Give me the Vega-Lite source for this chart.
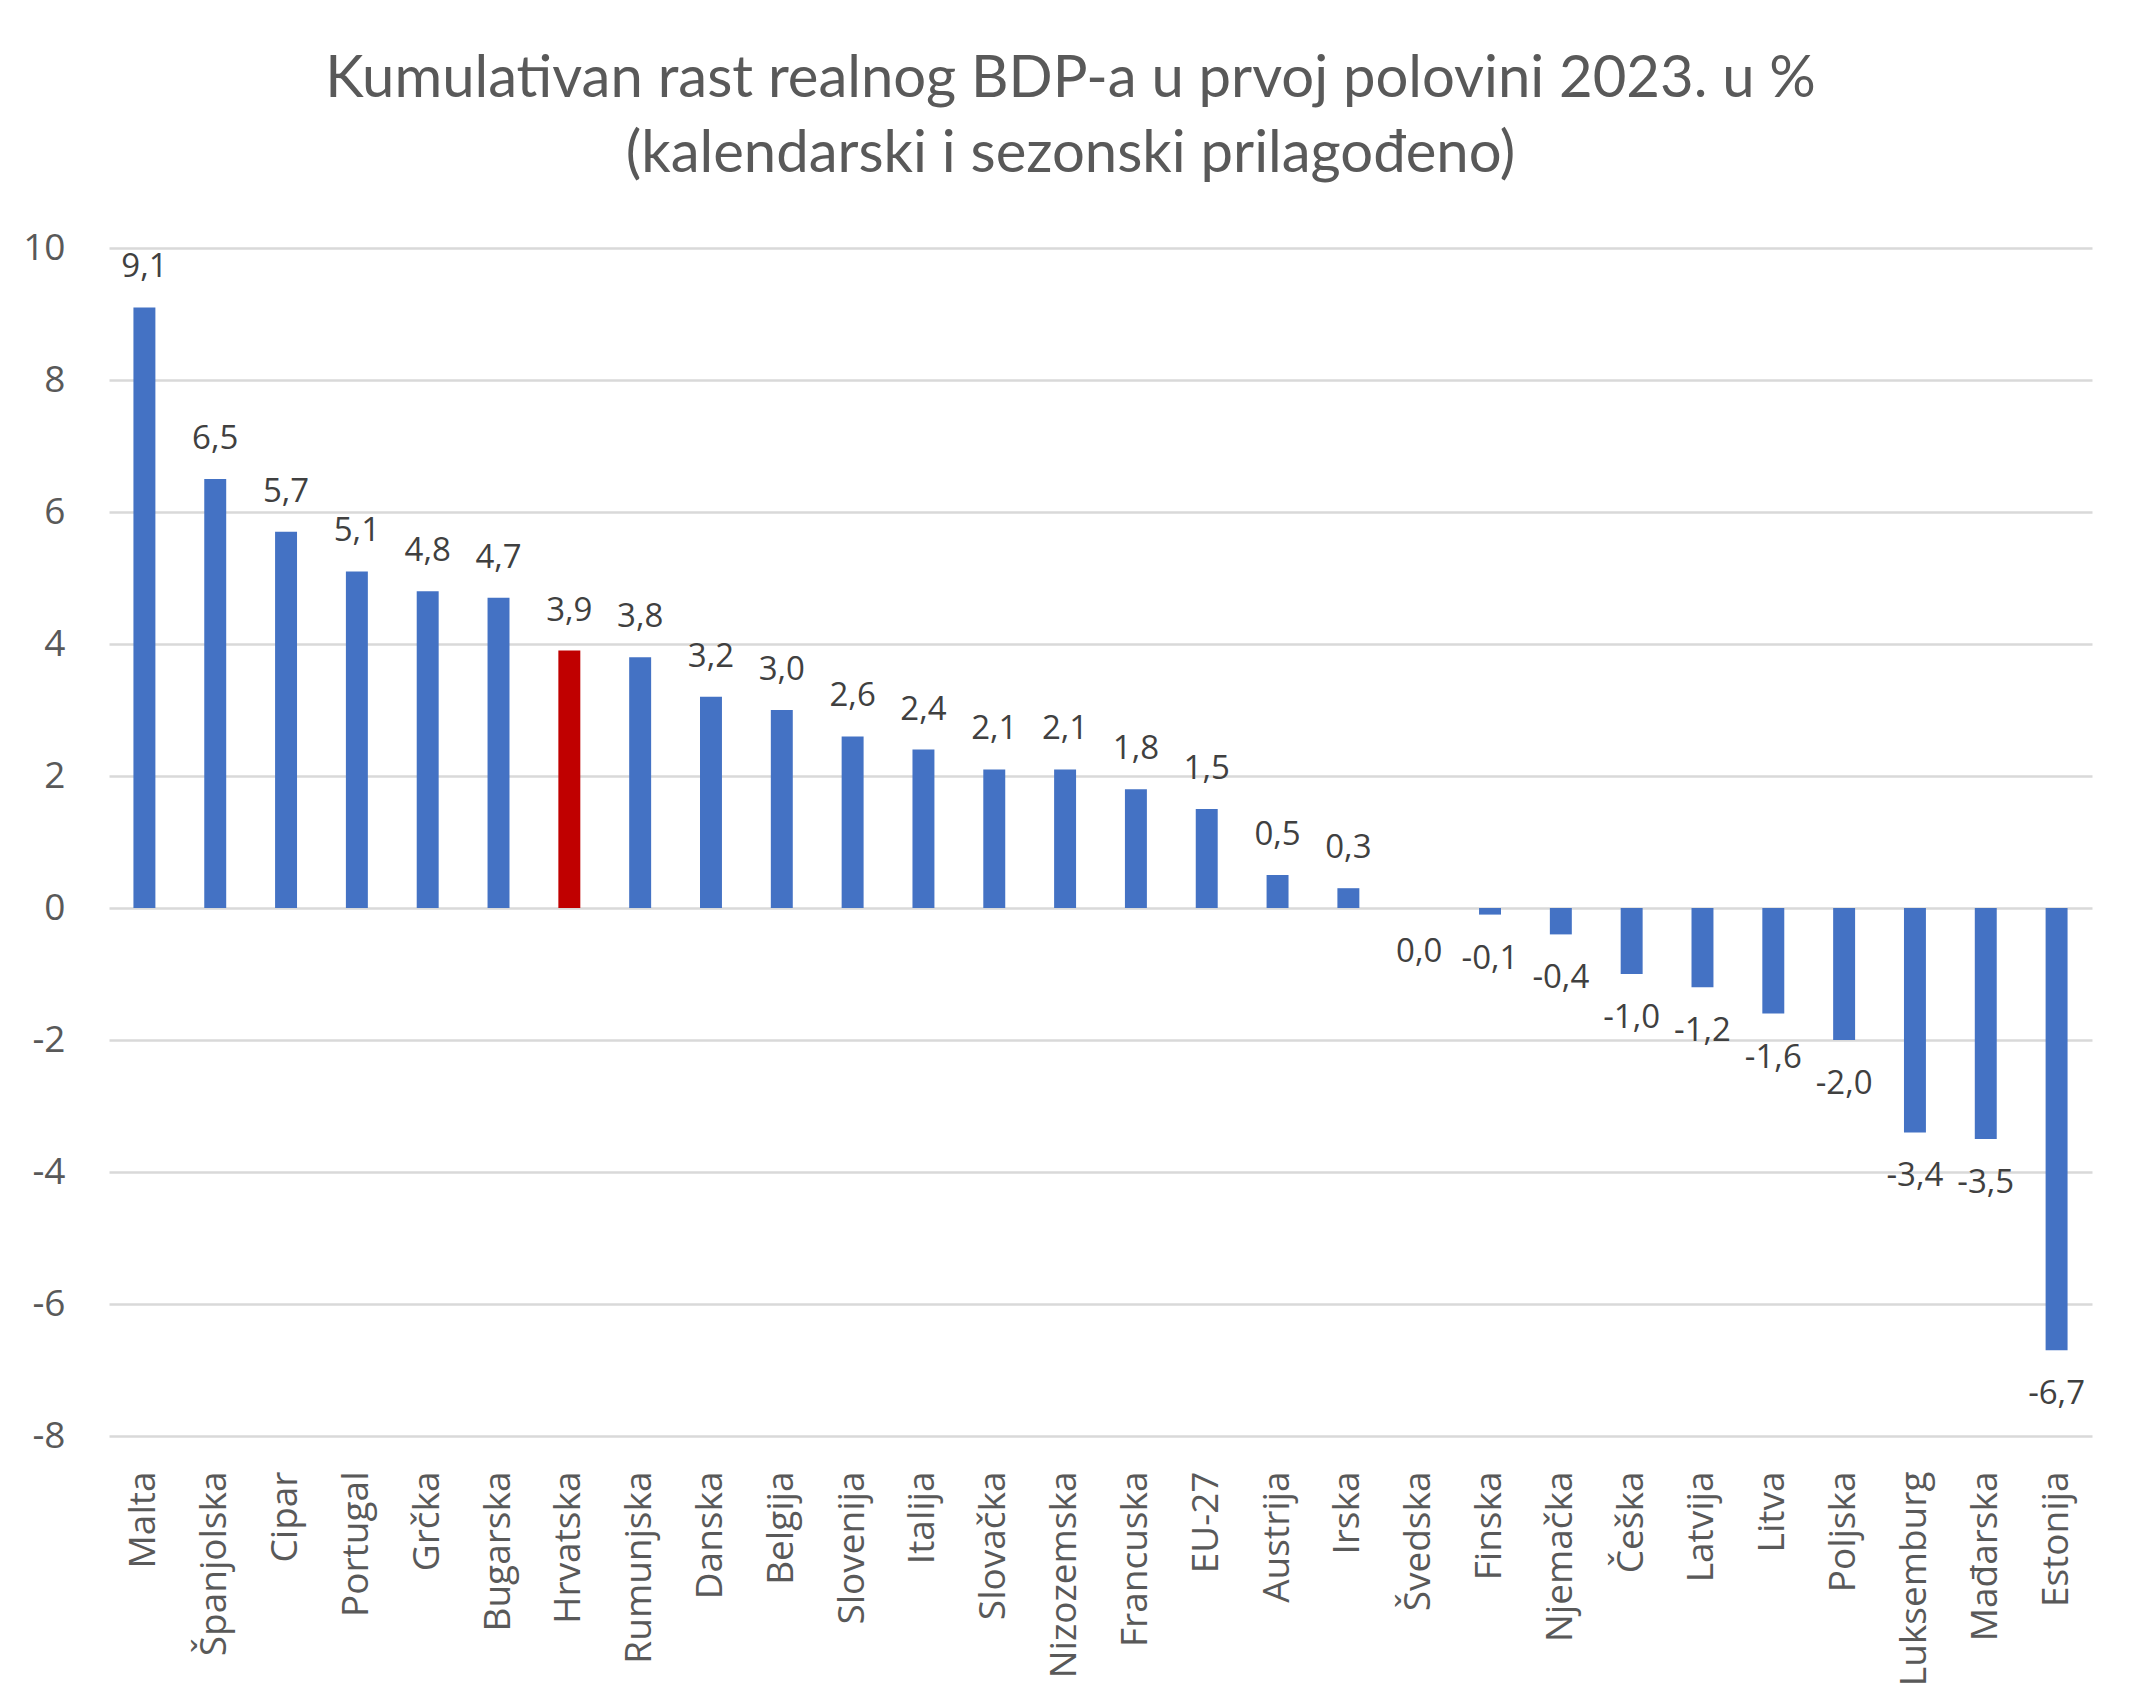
{
  "$schema": "https://vega.github.io/schema/vega-lite/v6.json",
  "autosize": "none",
  "width": 1983,
  "height": 1188,
  "padding": {"left": 109, "top": 248, "right": 53, "bottom": 269},
  "background": "white",
  "config": {
    "view": {"stroke": null},
    "locale": {"number": {"decimal": ",", "thousands": ".", "grouping": [3], "currency": ["", " €"], "minus": "-"}}
  },
  "title": {
    "text": ["Kumulativan rast realnog BDP-a u prvoj polovini 2023. u %", "(kalendarski i sezonski prilagođeno)"],
    "font": "Lato",
    "fontSize": 58,
    "fontWeight": "normal",
    "color": "#595959",
    "lineHeight": 75,
    "anchor": "middle",
    "frame": "group",
    "baseline": "alphabetic",
    "offset": -1,
    "dx": -30
  },
  "data": {
    "values": [
      {"country": "Malta", "value": 9.1},
      {"country": "Španjolska", "value": 6.5},
      {"country": "Cipar", "value": 5.7},
      {"country": "Portugal", "value": 5.1},
      {"country": "Grčka", "value": 4.8},
      {"country": "Bugarska", "value": 4.7},
      {"country": "Hrvatska", "value": 3.9},
      {"country": "Rumunjska", "value": 3.8},
      {"country": "Danska", "value": 3.2},
      {"country": "Belgija", "value": 3.0},
      {"country": "Slovenija", "value": 2.6},
      {"country": "Italija", "value": 2.4},
      {"country": "Slovačka", "value": 2.1},
      {"country": "Nizozemska", "value": 2.1},
      {"country": "Francuska", "value": 1.8},
      {"country": "EU-27", "value": 1.5},
      {"country": "Austrija", "value": 0.5},
      {"country": "Irska", "value": 0.3},
      {"country": "Švedska", "value": 0.0},
      {"country": "Finska", "value": -0.1},
      {"country": "Njemačka", "value": -0.4},
      {"country": "Češka", "value": -1.0},
      {"country": "Latvija", "value": -1.2},
      {"country": "Litva", "value": -1.6},
      {"country": "Poljska", "value": -2.0},
      {"country": "Luksemburg", "value": -3.4},
      {"country": "Mađarska", "value": -3.5},
      {"country": "Estonija", "value": -6.7}
    ]
  },
  "encoding": {
    "x": {
      "field": "country",
      "type": "nominal",
      "sort": null,
      "scale": {"paddingInner": 0.69, "paddingOuter": 0.345},
      "axis": {
        "title": null,
        "labelAngle": -90,
        "labelFont": "Open Sans",
        "labelFontSize": 37,
        "labelColor": "#595959",
        "labelPadding": 35,
        "labelLimit": 0,
        "labelOverlap": false,
        "ticks": false,
        "domain": false,
        "grid": false
      }
    },
    "y": {
      "field": "value",
      "type": "quantitative",
      "scale": {"domain": [-8, 10], "nice": false, "zero": false},
      "axis": {
        "title": null,
        "values": [-8, -6, -4, -2, 0, 2, 4, 6, 8, 10],
        "format": "d",
        "labelFont": "Open Sans",
        "labelFontSize": 37,
        "labelColor": "#595959",
        "labelPadding": 44,
        "ticks": false,
        "domain": false,
        "grid": true,
        "gridColor": "#d9d9d9",
        "gridWidth": 2.5
      }
    }
  },
  "layer": [
    {
      "mark": {"type": "bar"},
      "encoding": {
        "color": {
          "condition": {"test": "datum.country === 'Hrvatska'", "value": "#C00000"},
          "value": "#4472C4"
        }
      }
    },
    {
      "transform": [{"filter": "datum.value > 0"}],
      "mark": {"type": "text", "font": "Open Sans", "fontSize": 33, "color": "#404040", "baseline": "middle", "dy": -40},
      "encoding": {"text": {"field": "value", "type": "quantitative", "format": ".1f"}}
    },
    {
      "transform": [{"filter": "datum.value <= 0"}],
      "mark": {"type": "text", "font": "Open Sans", "fontSize": 33, "color": "#404040", "baseline": "middle", "dy": 44},
      "encoding": {"text": {"field": "value", "type": "quantitative", "format": ".1f"}}
    }
  ]
}
